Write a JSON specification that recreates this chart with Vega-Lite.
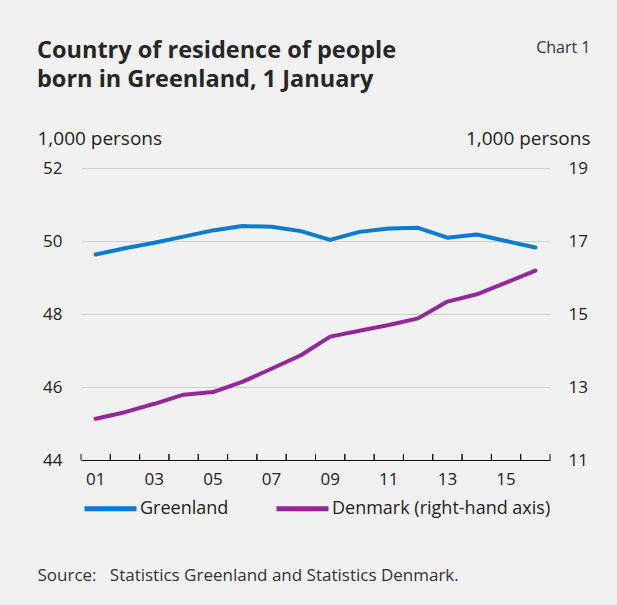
{
  "$schema": "https://vega.github.io/schema/vega-lite/v6.json",
  "width": 469,
  "height": 292,
  "autosize": {"type": "none"},
  "padding": {"left": 81, "top": 168, "right": 67, "bottom": 145},
  "background": "#f1f1f1",
  "title": {
    "text": ["Country of residence of people", "born in Greenland, 1 January"],
    "anchor": "start",
    "frame": "group",
    "dx": -44,
    "dy": 52,
    "font": "Open Sans",
    "fontSize": 23.5,
    "fontWeight": "bold",
    "lineHeight": 29,
    "color": "#262626",
    "offset": 0
  },
  "config": {
    "view": {"stroke": null},
    "font": "Open Sans"
  },
  "data": {
    "values": [
      {"year": "01", "series": "Greenland", "value": 49.63},
      {"year": "02", "series": "Greenland", "value": 49.80},
      {"year": "03", "series": "Greenland", "value": 49.95},
      {"year": "04", "series": "Greenland", "value": 50.12},
      {"year": "05", "series": "Greenland", "value": 50.29},
      {"year": "06", "series": "Greenland", "value": 50.41},
      {"year": "07", "series": "Greenland", "value": 50.39},
      {"year": "08", "series": "Greenland", "value": 50.27},
      {"year": "09", "series": "Greenland", "value": 50.03},
      {"year": "10", "series": "Greenland", "value": 50.25},
      {"year": "11", "series": "Greenland", "value": 50.34},
      {"year": "12", "series": "Greenland", "value": 50.36},
      {"year": "13", "series": "Greenland", "value": 50.09},
      {"year": "14", "series": "Greenland", "value": 50.18},
      {"year": "15", "series": "Greenland", "value": 50.00},
      {"year": "16", "series": "Greenland", "value": 49.82},
      {"year": "01", "series": "Denmark (right-hand axis)", "value": 12.13},
      {"year": "02", "series": "Denmark (right-hand axis)", "value": 12.31},
      {"year": "03", "series": "Denmark (right-hand axis)", "value": 12.54},
      {"year": "04", "series": "Denmark (right-hand axis)", "value": 12.79},
      {"year": "05", "series": "Denmark (right-hand axis)", "value": 12.86},
      {"year": "06", "series": "Denmark (right-hand axis)", "value": 13.14},
      {"year": "07", "series": "Denmark (right-hand axis)", "value": 13.50},
      {"year": "08", "series": "Denmark (right-hand axis)", "value": 13.87},
      {"year": "09", "series": "Denmark (right-hand axis)", "value": 14.38},
      {"year": "10", "series": "Denmark (right-hand axis)", "value": 14.54},
      {"year": "11", "series": "Denmark (right-hand axis)", "value": 14.70},
      {"year": "12", "series": "Denmark (right-hand axis)", "value": 14.88},
      {"year": "13", "series": "Denmark (right-hand axis)", "value": 15.34},
      {"year": "14", "series": "Denmark (right-hand axis)", "value": 15.54},
      {"year": "15", "series": "Denmark (right-hand axis)", "value": 15.86},
      {"year": "16", "series": "Denmark (right-hand axis)", "value": 16.19}
    ]
  },
  "layer": [
    {
      "transform": [{"filter": "datum.series == 'Greenland'"}],
      "mark": {"type": "line", "strokeWidth": 4, "strokeCap": "round", "strokeJoin": "round"},
      "encoding": {
        "x": {
          "field": "year", "type": "ordinal",
          "scale": {"type": "band", "paddingInner": 0, "paddingOuter": 0},
          "axis": {
            "orient": "bottom",
            "labelAngle": 0,
            "labelExpr": "parseInt(datum.value) % 2 == 1 ? datum.value : ''",
            "labelFontSize": 17,
            "labelColor": "#222222",
            "labelPadding": 11,
            "domain": false,
            "ticks": false,
            "grid": false,
            "title": "Source:\u00a0\u00a0\u00a0Statistics Greenland and Statistics Denmark.",
            "titleX": -44,
            "titleY": 120,
            "titleAlign": "left",
            "titleBaseline": "alphabetic",
            "titleAnchor": null,
            "titleFontSize": 17,
            "titleFontWeight": "normal",
            "titleColor": "#333333"
          }
        },
        "y": {
          "field": "value", "type": "quantitative",
          "scale": {"domain": [44, 52], "zero": false, "nice": false},
          "axis": {
            "orient": "left",
            "values": [44, 46, 48, 50, 52],
            "domain": false,
            "ticks": false,
            "labelFontSize": 17,
            "labelColor": "#222222",
            "labelPadding": 19,
            "grid": true,
            "gridColor": {"condition": {"test": "datum.value == 44", "value": "#111111"}, "value": "#cfcfcf"},
            "gridWidth": 1,
            "title": "1,000 persons",
            "titleAngle": 0,
            "titleX": -44,
            "titleY": -24,
            "titleAlign": "left",
            "titleBaseline": "alphabetic",
            "titleFontSize": 19,
            "titleFontWeight": "normal",
            "titleColor": "#222222"
          }
        },
        "color": {
          "field": "series", "type": "nominal",
          "scale": {"domain": ["Greenland", "Denmark (right-hand axis)"], "range": ["#0a7bd3", "#93289d"]},
          "legend": {
            "orient": "none",
            "legendX": 1,
            "legendY": 312,
            "direction": "horizontal",
            "title": null,
            "symbolType": "stroke",
            "symbolStrokeWidth": 5,
            "symbolSize": 2704,
            "labelFontSize": 18,
            "labelColor": "#222222",
            "labelOffset": 1,
            "labelLimit": 400,
            "columnPadding": 37
          }
        }
      }
    },
    {
      "transform": [{"filter": "datum.series != 'Greenland'"}],
      "mark": {"type": "line", "strokeWidth": 4, "strokeCap": "round", "strokeJoin": "round"},
      "encoding": {
        "x": {
          "field": "year", "type": "ordinal",
          "scale": {"type": "band", "paddingInner": 0, "paddingOuter": 0},
          "axis": {
            "orient": "top",
            "labels": false,
            "ticks": false,
            "domain": false,
            "grid": false,
            "title": "Chart 1",
            "titleX": 509,
            "titleY": -116,
            "titleAlign": "right",
            "titleBaseline": "alphabetic",
            "titleAnchor": null,
            "titleFontSize": 16,
            "titleFontWeight": "normal",
            "titleColor": "#333333"
          }
        },
        "y": {
          "field": "value", "type": "quantitative",
          "scale": {"domain": [11, 19], "zero": false, "nice": false},
          "axis": {
            "orient": "right",
            "values": [11, 13, 15, 17, 19],
            "domain": false,
            "ticks": false,
            "grid": false,
            "labelFontSize": 17,
            "labelColor": "#222222",
            "labelPadding": 18,
            "title": "1,000 persons",
            "titleAngle": 0,
            "titleX": 40,
            "titleY": -24,
            "titleAlign": "right",
            "titleBaseline": "alphabetic",
            "titleFontSize": 19,
            "titleFontWeight": "normal",
            "titleColor": "#222222"
          }
        },
        "color": {
          "field": "series", "type": "nominal",
          "scale": {"domain": ["Greenland", "Denmark (right-hand axis)"], "range": ["#0a7bd3", "#93289d"]}
        }
      }
    },
    {
      "transform": [{"filter": "datum.series == 'Greenland'"}],
      "mark": {"type": "rule", "color": "#111111", "strokeWidth": 1},
      "encoding": {
        "x": {
          "field": "year", "type": "ordinal", "bandPosition": 0,
          "scale": {"type": "band", "paddingInner": 0, "paddingOuter": 0},
          "axis": null
        },
        "y": {"datum": 44, "type": "quantitative", "scale": {"domain": [44, 52], "zero": false, "nice": false}, "axis": null},
        "y2": {"datum": 44.165}
      }
    },
    {
      "transform": [{"filter": "datum.series == 'Greenland'"}],
      "mark": {"type": "rule", "color": "#111111", "strokeWidth": 1},
      "encoding": {
        "x": {
          "field": "year", "type": "ordinal", "bandPosition": 1,
          "scale": {"type": "band", "paddingInner": 0, "paddingOuter": 0},
          "axis": null
        },
        "y": {"datum": 44, "type": "quantitative", "scale": {"domain": [44, 52], "zero": false, "nice": false}, "axis": null},
        "y2": {"datum": 44.165}
      }
    }
  ],
  "resolve": {"scale": {"y": "independent", "x": "independent"}}
}
